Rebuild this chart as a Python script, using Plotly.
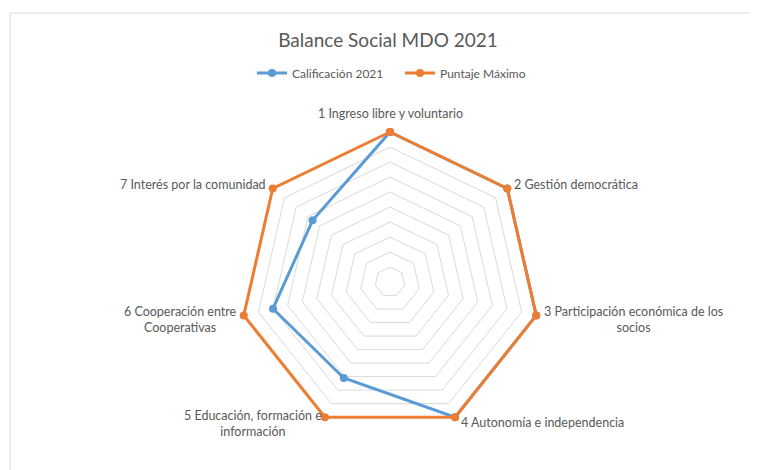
import math
import plotly.graph_objects as go

categories = [
    "1 Ingreso libre y voluntario",
    "2 Gestión democrática",
    "3 Participación económica de los<br>socios",
    "4 Autonomía e independencia",
    "5 Educación, formación e<br>información",
    "6 Cooperación entre<br>Cooperativas",
    "7 Interés por la comunidad",
]
calificacion_2021 = [100, 100, 100, 100, 71, 80, 66]
puntaje_maximo = [100, 100, 100, 100, 100, 100, 100]
radial_max = 100

W, H = 757, 470
OFF = 8  # page body margin
FONT = "Lato, 'Open Sans', sans-serif"
GREY = "#595959"

def closed(v):
    return list(v) + [v[0]]

fig = go.Figure()
fig.add_trace(go.Scatterpolar(
    r=closed(calificacion_2021), theta=closed(categories),
    name="Calificación 2021", mode="lines+markers", cliponaxis=False,
    line=dict(color="#5B9BD5", width=3),
    marker=dict(color="#5B9BD5", size=8, symbol="circle"),
))
fig.add_trace(go.Scatterpolar(
    r=closed(puntaje_maximo), theta=closed(categories),
    name="Puntaje Máximo", mode="lines+markers", cliponaxis=False,
    line=dict(color="#ED7D31", width=3),
    marker=dict(color="#ED7D31", size=8, symbol="circle"),
))

# polar geometry (pixels in the figure)
cx, cy, R = 390 - OFF, 282 - OFF, 150
pad = 1.02
Rd = R * pad

# category labels placed next to the polygon vertices
label_style = [
    # (dx, dy, xanchor, yanchor)
    (0, -9, "center", "bottom"),
    (5, -4, "left", "middle"),
    (6, 4, "left", "middle"),
    (4, 5, "left", "middle"),
    (-1, 6, "right", "middle"),
    (-5, 4, "right", "middle"),
    (-5, -4, "right", "middle"),
]
annotations = []
n = len(categories)
for k, (lab, (dx, dy, xa, ya)) in enumerate(zip(categories, label_style)):
    th = math.radians(90 - k * 360 / n)
    vx = cx + R * math.cos(th)
    vy = cy - R * math.sin(th)
    annotations.append(dict(
        text=lab, xref="paper", yref="paper",
        x=vx / W, y=1 - vy / H, xshift=dx, yshift=-dy,
        xanchor=xa, yanchor=ya, align="center", showarrow=False,
        font=dict(family=FONT, size=12.5, color=GREY),
    ))

fig.update_layout(
    template="none",
    width=W, height=H,
    margin=dict(l=0, r=0, t=0, b=0),
    paper_bgcolor="white",
    font=dict(family=FONT, color=GREY, size=12),
    title=dict(text="Balance Social MDO 2021", x=(388 - OFF) / W, xanchor="center",
               y=1 - (40 - OFF) / H, yanchor="middle", yref="container",
               font=dict(family=FONT, size=19, color=GREY)),
    legend=dict(orientation="h", x=(400 - OFF) / W, xanchor="center",
                y=1 - (73 - OFF) / H, yanchor="middle",
                font=dict(family=FONT, size=12, color=GREY),
                bgcolor="rgba(0,0,0,0)", itemwidth=30, entrywidth=103),
    showlegend=True,
    polar=dict(
        domain=dict(x=[(cx - Rd) / W, (cx + Rd) / W],
                    y=[1 - (cy + Rd) / H, 1 - (cy - Rd) / H]),
        bgcolor="white",
        gridshape="linear",
        radialaxis=dict(range=[0, radial_max * pad], dtick=10, tick0=0,
                        showticklabels=False, ticks="", showline=False,
                        gridcolor="#d9d9d9", gridwidth=1),
        angularaxis=dict(direction="clockwise", rotation=90,
                         showgrid=False, showline=False, ticks="",
                         showticklabels=False),
    ),
    annotations=annotations,
    shapes=[
        dict(type="line", xref="paper", yref="paper",
             x0=(10 - OFF) / W, x1=1.05, y0=1 - (13 - OFF) / H, y1=1 - (13 - OFF) / H,
             line=dict(color="#d9d9d9", width=1)),
        dict(type="line", xref="paper", yref="paper",
             x0=(10 - OFF) / W, x1=(10 - OFF) / W, y0=1 - (13 - OFF) / H, y1=-0.05,
             line=dict(color="#d9d9d9", width=1)),
    ],
)

fig.write_html("out.html")
